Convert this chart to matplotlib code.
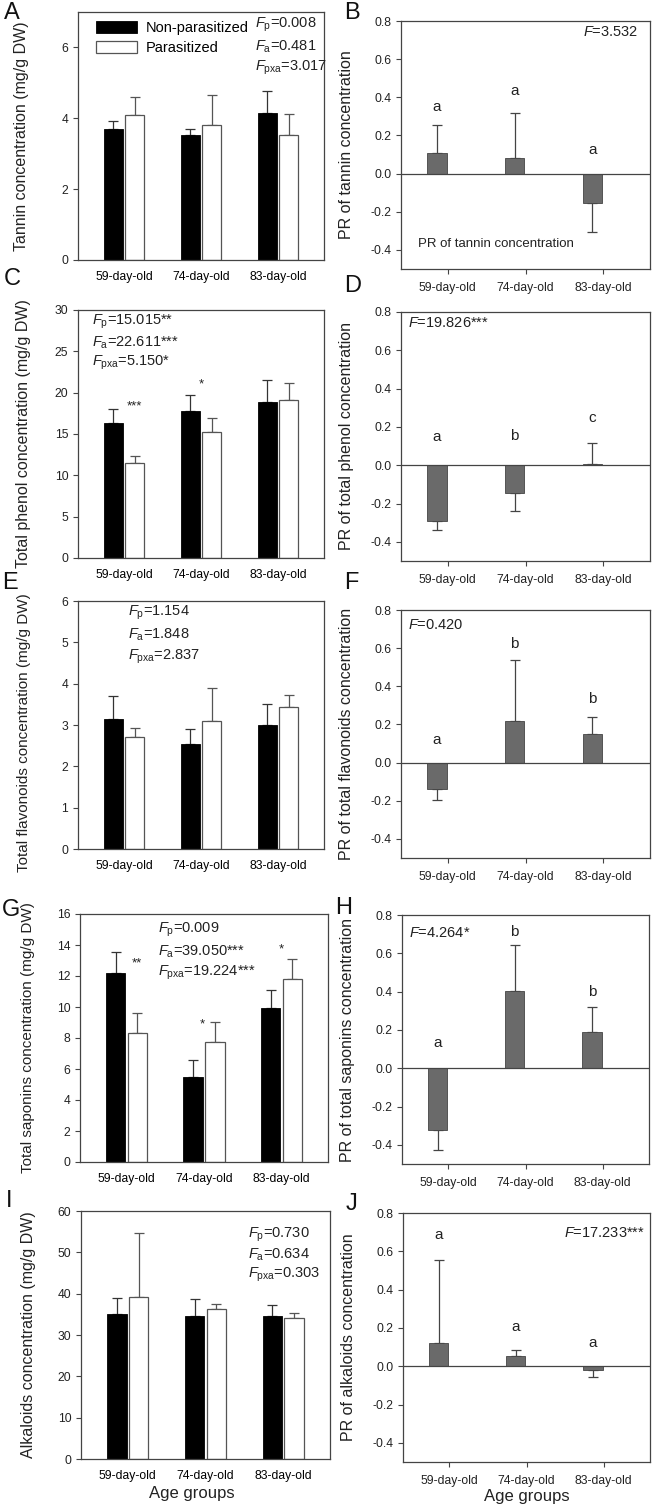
import matplotlib
matplotlib.use("Agg")
import matplotlib.pyplot as plt
import numpy as np

plt.rcParams["font.family"] = ["Liberation Sans", "DejaVu Sans"]
plt.rcParams["mathtext.fontset"] = "custom"
plt.rcParams["mathtext.rm"] = "Liberation Sans"
plt.rcParams["mathtext.it"] = "Liberation Sans:italic"

# data
# ----
ages = ["59-day-old", "74-day-old", "83-day-old"]

tannin_np = [3.69, 3.54, 4.14]
tannin_np_err = [0.24, 0.16, 0.62]
tannin_p = [4.08, 3.81, 3.52]
tannin_p_err = [0.53, 0.85, 0.61]
tannin_stats = [r"$F_{\rm p}$=0.008", r"$F_{\rm a}$=0.481", r"$F_{\rm pxa}$=3.017"]

phenol_np = [16.35, 17.80, 18.93]
phenol_np_err = [1.62, 1.86, 2.59]
phenol_p = [11.55, 15.26, 19.10]
phenol_p_err = [0.80, 1.66, 2.05]
phenol_stats = [r"$F_{\rm p}$=15.015**", r"$F_{\rm a}$=22.611***", r"$F_{\rm pxa}$=5.150*"]
phenol_stars = ["***", "*", ""]
phenol_stars_y = [18.3, 21.0, 0]

flav_np = [3.14, 2.55, 3.00]
flav_np_err = [0.57, 0.35, 0.52]
flav_p = [2.72, 3.10, 3.44]
flav_p_err = [0.20, 0.80, 0.28]
flav_stats = [r"$F_{\rm p}$=1.154", r"$F_{\rm a}$=1.848", r"$F_{\rm pxa}$=2.837"]

sapo_np = [12.17, 5.50, 9.94]
sapo_np_err = [1.40, 1.07, 1.16]
sapo_p = [8.30, 7.74, 11.79]
sapo_p_err = [1.31, 1.31, 1.33]
sapo_stats = [r"$F_{\rm p}$=0.009", r"$F_{\rm a}$=39.050***", r"$F_{\rm pxa}$=19.224***"]
sapo_stars = ["**", "*", "*"]
sapo_stars_y = [12.8, 8.9, 13.7]

alk_np = [35.2, 34.5, 34.6]
alk_np_err = [3.7, 4.2, 2.6]
alk_p = [39.3, 36.3, 34.1]
alk_p_err = [15.4, 1.1, 1.3]
alk_stats = [r"$F_{\rm p}$=0.730", r"$F_{\rm a}$=0.634", r"$F_{\rm pxa}$=0.303"]

tannin_pr = [0.108, 0.080, -0.153]
tannin_pr_err = [0.148, 0.240, 0.151]
tannin_pr_letters = ["a", "a", "a"]
tannin_pr_letters_y = [0.348, 0.435, 0.122]

phenol_pr = [-0.293, -0.146, 0.004]
phenol_pr_err = [0.046, 0.094, 0.112]
phenol_pr_letters = ["a", "b", "c"]
phenol_pr_letters_y = [0.146, 0.150, 0.247]

flav_pr = [-0.136, 0.217, 0.148]
flav_pr_err = [0.061, 0.319, 0.091]
flav_pr_letters = ["a", "b", "b"]
flav_pr_letters_y = [0.117, 0.620, 0.335]

sapo_pr = [-0.320, 0.405, 0.187]
sapo_pr_err = [0.108, 0.236, 0.131]
sapo_pr_letters = ["a", "b", "b"]
sapo_pr_letters_y = [0.134, 0.710, 0.400]

alk_pr = [0.119, 0.052, -0.019]
alk_pr_err = [0.438, 0.035, 0.039]
alk_pr_letters = ["a", "a", "a"]
alk_pr_letters_y = [0.685, 0.204, 0.120]

W, H = 653, 1506
OFF = 0.14
BW = 0.25


def rect(l, t, r, b):
    return [l / W, 1 - b / H, (r - l) / W, (b - t) / H]


def style_spines(ax, color="#444444"):
    for s in ax.spines.values():
        s.set_color(color)
        s.set_linewidth(0.9)


def ax_add_concentration(
    ax, np_vals, np_err, p_vals, p_err, ymax, ystep, ylabel, stats,
    stats_x, stats_y, ylabel_x=-0.2, ylabel_size=11.5, ylabel_y=0.5,
):
    x = np.arange(len(ages))
    ax.bar(x - OFF, np_vals, BW, color="black", edgecolor="black",
           linewidth=0.6, zorder=2)
    ax.bar(x + OFF, p_vals, BW, color="white", edgecolor="#555555",
           linewidth=0.9, zorder=2)
    ax.errorbar(x - OFF, np_vals, yerr=[np.zeros(3), np_err], fmt="none",
                ecolor="#333333", elinewidth=0.9, capsize=3.6, capthick=0.9,
                zorder=1)
    ax.errorbar(x + OFF, p_vals, yerr=[np.zeros(3), p_err], fmt="none",
                ecolor="#555555", elinewidth=0.9, capsize=3.6, capthick=0.9,
                zorder=1)
    ax.set_xlim(-0.6, 2.6)
    ax.set_ylim(0, ymax)
    ax.set_yticks(np.arange(0, ymax + 0.01, ystep))
    ax.set_xticks(x)
    ax.set_xticklabels(ages)
    ax.tick_params(axis="x", length=0, labelsize=8.7, pad=8)
    ax.tick_params(axis="y", length=3.5, labelsize=8.7, color="#444444",
                   labelcolor="#222222")
    ax.set_ylabel(ylabel, fontsize=ylabel_size, color="#222222")
    ax.yaxis.set_label_coords(ylabel_x, ylabel_y)
    style_spines(ax)
    for s, yy in zip(stats, stats_y):
        ax.text(stats_x, yy, s, transform=ax.transAxes, fontsize=10.5,
                va="center", ha="left", color="#222222")


def ax_add_pr(ax, vals, err, letters, letters_y, ylabel, fstat, fstat_xy,
              fstat_ha="left"):
    x = np.arange(len(ages))
    vals = np.array(vals)
    err = np.array(err)
    lower = np.where(vals < 0, err, 0)
    upper = np.where(vals >= 0, err, 0)
    ax.bar(x - OFF, vals, BW, color="#6a6a6a", edgecolor="#444444",
           linewidth=0.6, zorder=2)
    ax.errorbar(x - OFF, vals, yerr=[lower, upper], fmt="none",
                ecolor="#444444", elinewidth=0.9, capsize=3.6, capthick=0.9,
                zorder=1)
    ax.axhline(0, color="#444444", linewidth=0.9, zorder=3)
    for xi, l, yy in zip(x, letters, letters_y):
        ax.text(xi - OFF, yy, l, ha="center", va="center", fontsize=11,
                color="#222222")
    ax.set_xlim(-0.6, 2.6)
    ax.set_ylim(-0.5, 0.8)
    ax.set_yticks(np.arange(-0.4, 0.81, 0.2))
    ax.set_yticklabels(["%.1f" % v for v in np.arange(-0.4, 0.81, 0.2)])
    ax.set_xticks(x)
    ax.set_xticklabels(ages)
    ax.tick_params(axis="both", length=3.5, labelsize=8.7, color="#444444",
                   labelcolor="#222222")
    ax.tick_params(axis="x", pad=6)
    ax.set_ylabel(ylabel, fontsize=11.5, color="#222222")
    ax.yaxis.set_label_coords(-0.19, 0.5)
    style_spines(ax)
    ax.text(fstat_xy[0], fstat_xy[1], fstat, transform=ax.transAxes,
            ha=fstat_ha, va="center", fontsize=10.5, color="#222222")


fig = plt.figure(figsize=(W / 100, H / 100), dpi=100)

axA = fig.add_axes(rect(78, 12, 324, 260))
ax_add_concentration(axA, tannin_np, tannin_np_err, tannin_p, tannin_p_err,
                     7, 2, "Tannin concentration (mg/g DW)", tannin_stats,
                     0.72, [0.948, 0.859, 0.774])
axA.set_ylim(0, 7)
axA.legend(["Non-parasitized", "Parasitized"], loc="upper left",
           bbox_to_anchor=(0.045, 0.995), frameon=False, fontsize=10.5,
           handlelength=2.8, handleheight=0.9, handletextpad=0.6,
           borderpad=0.0, labelspacing=0.45)

axB = fig.add_axes(rect(401, 21, 650, 269))
ax_add_pr(axB, tannin_pr, tannin_pr_err, tannin_pr_letters, tannin_pr_letters_y,
          "PR of tannin concentration", r"$F$=3.532", (0.955, 0.955), "right")
axB.text(0.07, 0.1, "PR of tannin concentration", transform=axB.transAxes,
         fontsize=9.5, color="#222222", va="center")

axC = fig.add_axes(rect(78, 310, 324, 558))
ax_add_concentration(axC, phenol_np, phenol_np_err, phenol_p, phenol_p_err,
                     30, 5, "Total phenol concentration (mg/g DW)", phenol_stats,
                     0.057, [0.952, 0.867, 0.786], ylabel_x=-0.19)
for xi, s, yy in zip([0 + OFF, 1.0, 2.0], phenol_stars, phenol_stars_y):
    axC.text(xi, yy, s, ha="center", va="center", fontsize=9.5, color="#222222")

axD = fig.add_axes(rect(401, 312, 650, 561))
ax_add_pr(axD, phenol_pr, phenol_pr_err, phenol_pr_letters, phenol_pr_letters_y,
          "PR of total phenol concentration", r"$F$=19.826***", (0.028, 0.956))

axE = fig.add_axes(rect(78, 601, 324, 849))
ax_add_concentration(axE, flav_np, flav_np_err, flav_p, flav_p_err,
                     6, 1, "Total flavonoids concentration (mg/g DW)", flav_stats,
                     0.205, [0.952, 0.863, 0.774], ylabel_x=-0.19,
                     ylabel_size=11, ylabel_y=0.47)

axF = fig.add_axes(rect(401, 610, 650, 858))
ax_add_pr(axF, flav_pr, flav_pr_err, flav_pr_letters, flav_pr_letters_y,
          "PR of total flavonoids concentration", r"$F$=0.420", (0.028, 0.94))

axG = fig.add_axes(rect(80, 914, 328, 1162))
ax_add_concentration(axG, sapo_np, sapo_np_err, sapo_p, sapo_p_err,
                     16, 2, "Total saponins concentration (mg/g DW)", sapo_stats,
                     0.315, [0.935, 0.847, 0.762], ylabel_x=-0.18,
                     ylabel_size=11)
for xi, s, yy in zip([0 + OFF, 1.0 - 0.02, 2.0], sapo_stars, sapo_stars_y):
    axG.text(xi, yy, s, ha="center", va="center", fontsize=9.5, color="#222222")

axH = fig.add_axes(rect(402, 915, 649, 1164))
ax_add_pr(axH, sapo_pr, sapo_pr_err, sapo_pr_letters, sapo_pr_letters_y,
          "PR of total saponins concentration", r"$F$=4.264*", (0.03, 0.928))

axI = fig.add_axes(rect(81, 1211, 330, 1459))
ax_add_concentration(axI, alk_np, alk_np_err, alk_p, alk_p_err,
                     60, 10, "Alkaloids concentration (mg/g DW)", alk_stats,
                     0.67, [0.903, 0.823, 0.742], ylabel_x=-0.18)
axI.set_xlabel("Age groups", fontsize=12, color="#222222")
axI.xaxis.set_label_coords(0.446, -0.11)

axJ = fig.add_axes(rect(403, 1213, 650, 1462))
ax_add_pr(axJ, alk_pr, alk_pr_err, alk_pr_letters, alk_pr_letters_y,
          "PR of alkaloids concentration", r"$F$=17.233***", (0.98, 0.92), "right")
axJ.set_xlabel("Age groups", fontsize=12, color="#222222")
axJ.xaxis.set_label_coords(0.5, -0.11)

# panel letters
panel_letters = ["A", "B", "C", "D", "E", "F", "G", "H", "I", "J"]
letter_px = [(4, 13), (344, 13), (4, 279), (344, 286), (2, 583),
             (344, 583), (2, 910), (335, 908), (6, 1201), (346, 1204)]
for lab, (px, py) in zip(panel_letters, letter_px):
    fig.text(px / W, 1 - py / H, lab, fontsize=17, va="center", ha="left",
             color="#111111")

fig.savefig("out.png", dpi=100)
